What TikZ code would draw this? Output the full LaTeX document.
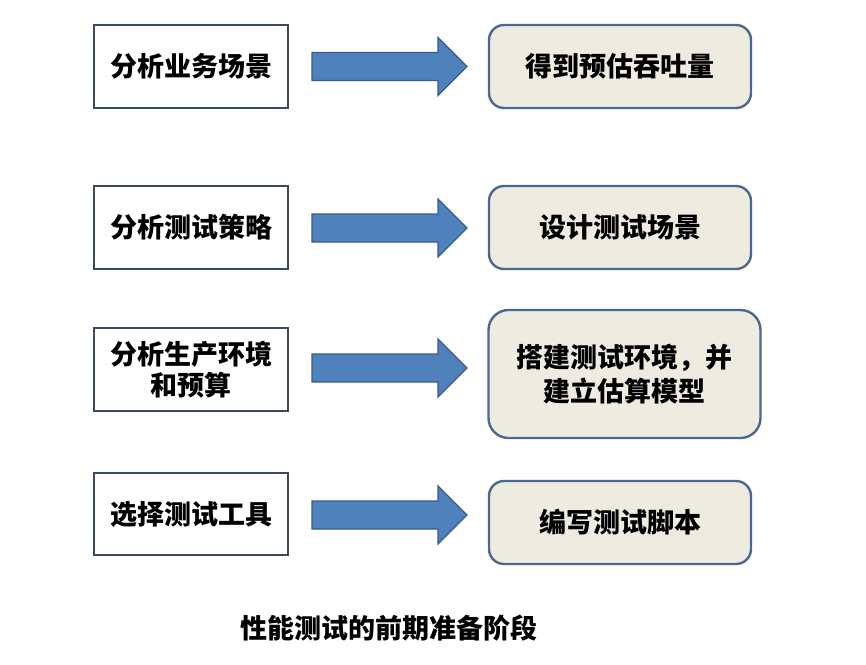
\documentclass[tikz,border=0pt]{standalone}
\usepackage{fontspec}
\setmainfont{Noto Sans CJK SC}
\usetikzlibrary{positioning}
\definecolor{leftedge}{HTML}{3B4A5C}
\definecolor{rightfill}{HTML}{EEECE1}
\definecolor{rightedge}{HTML}{4A6890}
\definecolor{arrfill}{HTML}{4F81BD}
\definecolor{arredge}{HTML}{385D8A}
\tikzset{
  leftbox/.style={draw=leftedge, line width=2pt, fill=white, inner sep=0pt, align=center,
    font=\fontsize{27}{31}\selectfont\bfseries},
  rightbox/.style={draw=rightedge, line width=2.4pt, fill=rightfill, rounded corners=15pt,
    inner sep=0pt, align=center, font=\fontsize{27}{34}\selectfont\bfseries},
  arrowstyle/.style={draw=arredge, line width=1.2pt, fill=arrfill, line join=miter},
  barrow/.pic={\draw[arrowstyle] (0,-14) -- (126,-14) -- (126,-29) -- (155,0) -- (126,29) -- (126,14) -- (0,14) -- cycle;},
  caption/.style={font=\fontsize{27}{30}\selectfont\bfseries, inner sep=0pt}
}
\begin{document}
\begin{tikzpicture}[x=1pt,y=-1pt]
\useasboundingbox[fill=white] (0,0) rectangle (866,664);
% left boxes
\node[leftbox, minimum width=194pt, minimum height=83pt] (l1) at (191,66.5) {分析业务场景};
\node[leftbox, minimum width=194pt, minimum height=83pt] (l2) at (191,227.5) {分析测试策略};
\node[leftbox, minimum width=194pt, minimum height=83pt] (l3) at (191,369.5) {分析生产环境\\和预算};
\node[leftbox, minimum width=194pt, minimum height=82pt] (l4) at (191,514) {选择测试工具};
% right boxes
\node[rightbox, minimum width=262pt, minimum height=83pt] (r1) at (620,66.5) {得到预估吞吐量};
\node[rightbox, minimum width=262pt, minimum height=83pt] (r2) at (620,227.5) {设计测试场景};
\node[rightbox, minimum width=272pt, minimum height=128pt, rounded corners=20pt] (r3) at (624.5,374) {搭建测试环境，并\\建立估算模型};
\node[rightbox, minimum width=262pt, minimum height=83pt] (r4) at (620,522.5) {编写测试脚本};
% arrows
\pic at (312,66.5) {barrow};
\pic at (312,228) {barrow};
\pic at (312,368) {barrow};
\pic at (312,515) {barrow};
% caption
\node[caption] (cap) at (389,628) {性能测试的前期准备阶段};
\end{tikzpicture}
\end{document}
